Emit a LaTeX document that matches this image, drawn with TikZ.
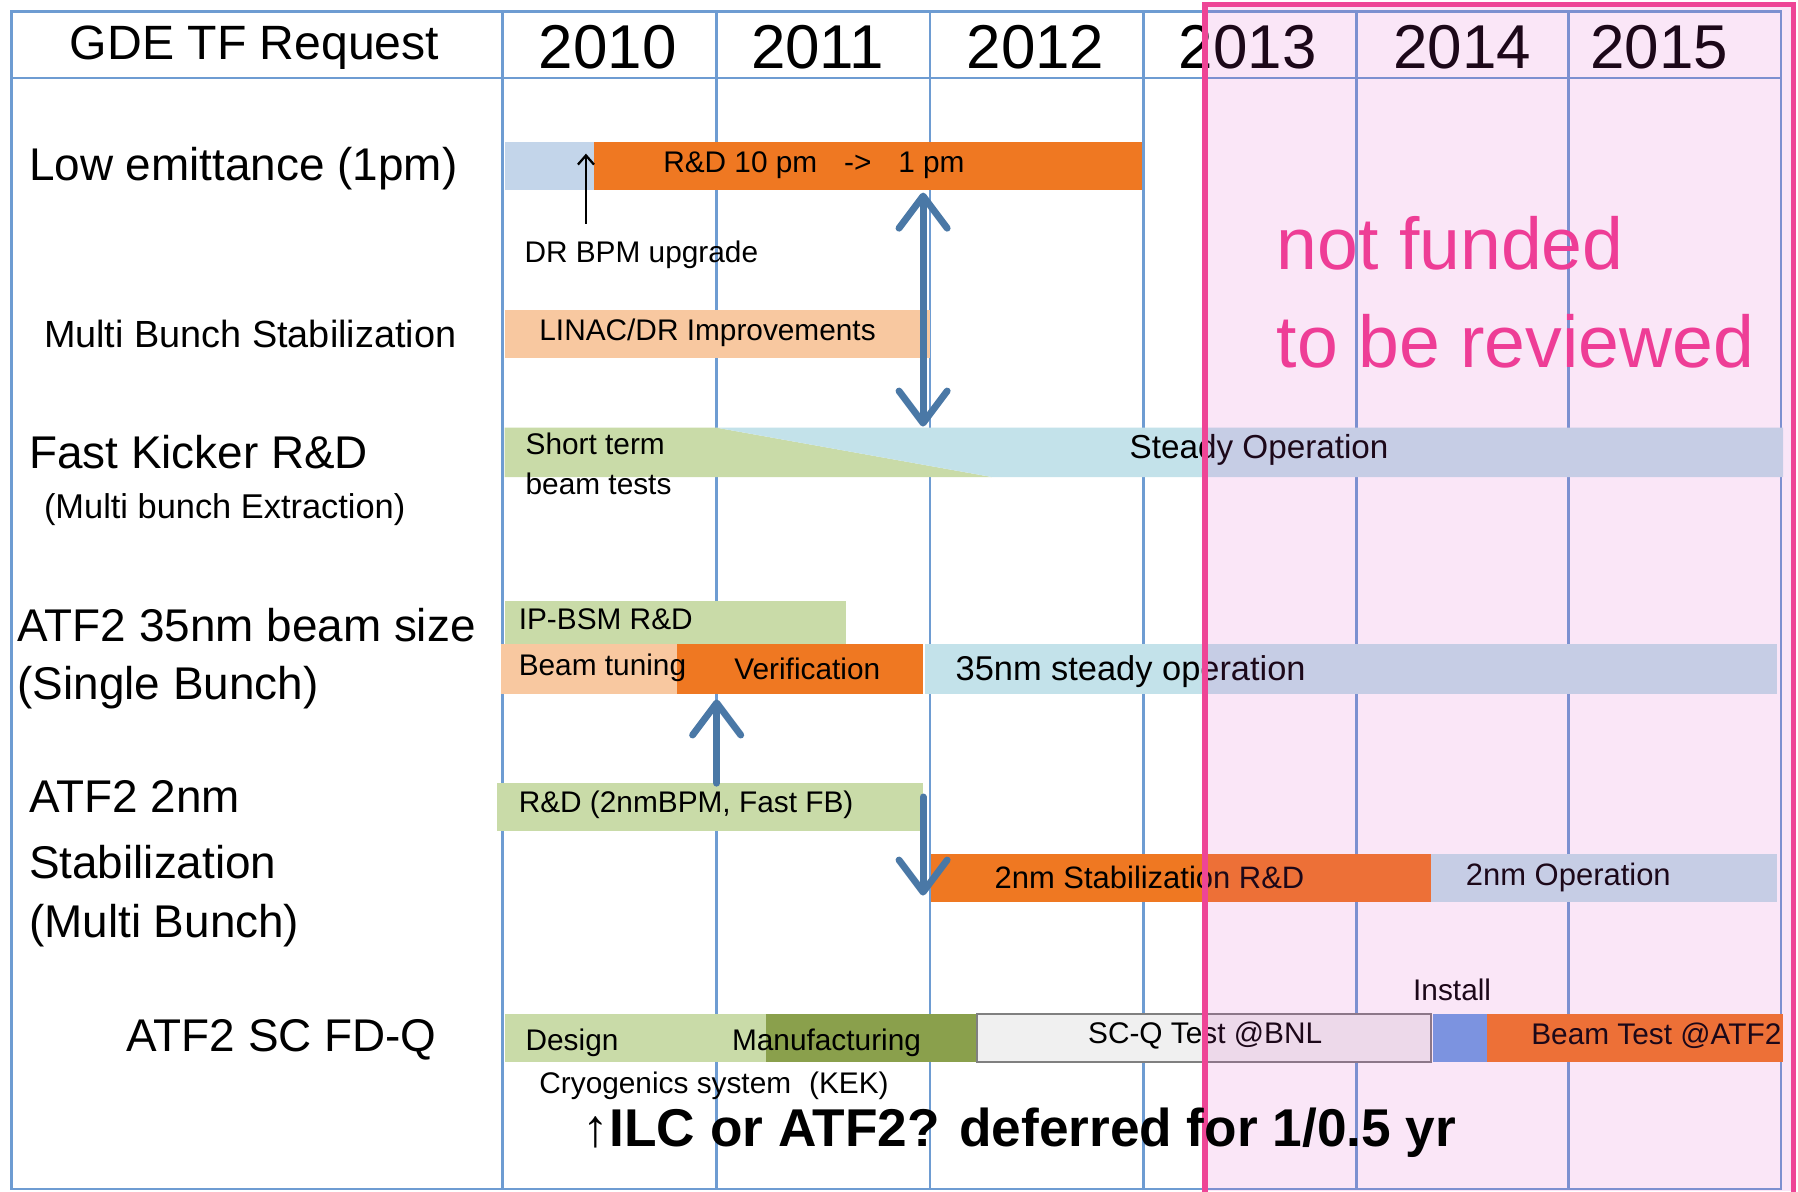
\documentclass[tikz,border=0pt]{standalone}
\usepackage{fontspec}
\setmainfont{Liberation Sans}
\usetikzlibrary{arrows.meta}
\definecolor{gridc}{HTML}{6E9CD2}
\definecolor{ltblue}{HTML}{C3D5EA}
\definecolor{orangeC}{HTML}{EF7822}
\definecolor{peach}{HTML}{F8C8A0}
\definecolor{greenC}{HTML}{C9DBA8}
\definecolor{cyanC}{HTML}{C3E2EA}
\definecolor{dkgreen}{HTML}{8AA04C}
\definecolor{boxgray}{HTML}{F0F0F0}
\definecolor{boxline}{HTML}{808080}
\definecolor{installblue}{HTML}{6EA0E4}
\definecolor{arrowblue}{HTML}{4A78A6}
\definecolor{pinkfill}{HTML}{E040C8}
\definecolor{pinkline}{HTML}{EE4596}
\definecolor{pinktext}{HTML}{EE3D96}
\begin{document}
\begin{tikzpicture}[x=0.5pt,y=-0.5pt,
  grid/.style={draw=gridc,line width=1.1pt},
  hdr/.style={inner sep=0pt,anchor=center,font=\fontsize{27}{30}\selectfont},
  rowlbl/.style={inner sep=0pt,anchor=west,font=\fontsize{20}{24}\selectfont},
  sublbl/.style={inner sep=0pt,anchor=west,font=\fontsize{15}{18}\selectfont},
  bartxt/.style={inner sep=0pt,anchor=west,font=\fontsize{13}{15}\selectfont},
  bigarrow/.style={draw=arrowblue,line width=3pt,line cap=round,>={Straight Barb[length=14pt,width=21pt,round]}},
  pinklbl/.style={inner sep=0pt,anchor=west,text=pinktext,font=\fontsize{32}{36}\selectfont}
]
\useasboundingbox (0,0) rectangle (1568,1039);
\fill[white] (0,0) rectangle (1568,1039);

% table
\draw[grid] (10,10) rectangle (1553,1037);
\draw[grid] (10,68) -- (1553,68);
\foreach \x in {438,625,811,997,1183,1368} \draw[grid] (\x,10) -- (\x,1037);

% header
\node[hdr,font=\fontsize{21}{24}\selectfont] (hreq) at (222,42) {GDE TF Request};
\node[hdr] (y10) at (530,41) {2010};
\node[hdr] (y11) at (713,41) {2011};
\node[hdr] (y12) at (903,41) {2012};
\node[hdr] (y13) at (1088,41) {2013};
\node[hdr] (y14) at (1275,41) {2014};
\node[hdr] (y15) at (1447,41) {2015};

% row labels
\node[rowlbl] (l1) at (25,147) {Low emittance (1pm)};
\node[sublbl,font=\fontsize{16.5}{19}\selectfont] (l2) at (38,291) {Multi Bunch Stabilization};
\node[rowlbl] (l3) at (25,394) {Fast Kicker R\&D};
\node[sublbl] (l3b) at (38,444) {(Multi bunch Extraction)};
\node[rowlbl] (l4) at (15,545) {ATF2 35nm beam size};
\node[rowlbl] (l4b) at (15,600) {(Single Bunch)};
\node[rowlbl] (l5) at (25,695) {ATF2 2nm};
\node[rowlbl] (l5b) at (25,752) {Stabilization};
\node[rowlbl] (l5c) at (25,807) {(Multi Bunch)};
\node[rowlbl] (l6) at (110,907) {ATF2 SC FD-Q};

% bars
\fill[ltblue] (440,124) rectangle (518,166);
\fill[orangeC] (518,124) rectangle (996,166);
\fill[peach] (440,270) rectangle (811,312);
\fill[greenC] (440,373) -- (625,373) -- (865,416) -- (440,416) -- cycle;
\fill[cyanC] (625,373) -- (1555,373) -- (1555,416) -- (865,416) -- cycle;
\fill[greenC] (440,524) rectangle (738,562);
\fill[peach] (437,562) rectangle (590,605);
\fill[orangeC] (590,562) rectangle (805,605);
\fill[cyanC] (807,562) rectangle (1550,605);
\fill[greenC] (433,683) rectangle (805,725);
\fill[orangeC] (812,745) rectangle (1248,787);
\fill[cyanC] (1248,745) rectangle (1550,787);
\fill[greenC] (440,884) rectangle (668,926);
\fill[dkgreen] (668,884) rectangle (852,926);
\filldraw[fill=boxgray,draw=boxline,line width=1pt] (852,884) rectangle (1248,926);
\fill[installblue] (1250,884) rectangle (1297,926);
\fill[orangeC] (1297,884) rectangle (1555,926);

% row 1 texts
\node[bartxt] (t1) at (578,144) {R\&D 10 pm\hspace{0.9em}->\hspace{0.9em}1 pm};
\coordinate (bpmtail) at (511,195);
\coordinate (bpmhead) at (511,134);
\draw[line width=1pt,-{Straight Barb[length=4pt,width=7pt]}] (bpmtail) -- (bpmhead);
\node[bartxt] (tbpm) at (457,222) {DR BPM upgrade};

% row 2
\node[bartxt] (t2) at (470,290) {LINAC/DR Improvements};

% row 3
\node[bartxt] (t3a) at (458,387) {Short term};
\node[bartxt] (t3b) at (458,422) {beam tests};
\node[bartxt,anchor=center,font=\fontsize{14.5}{17}\selectfont] (t3c) at (1098,392) {Steady Operation};

% double arrow row1 <-> row3
\coordinate (da1) at (805,168);
\coordinate (da2) at (805,372);
\draw[bigarrow,<->] (da1) -- (da2);

% row 4
\node[bartxt] (t4a) at (452,540) {IP-BSM R\&D};
\node[bartxt] (t4b) at (452,582) {Beam tuning};
\node[bartxt] (t4c) at (640,583) {Verification};
\node[bartxt,font=\fontsize{15}{18}\selectfont] (t4d) at (833,586) {35nm steady operation};

% row 5
\node[bartxt] (t5a) at (452,702) {R\&D (2nmBPM, Fast FB)};
\node[bartxt,font=\fontsize{13.5}{16}\selectfont] (t5b) at (867,765) {2nm Stabilization R\&D};
\node[bartxt,font=\fontsize{13.5}{16}\selectfont] (t5c) at (1278,765) {2nm Operation};

\coordinate (ua1) at (625,683);
\coordinate (ua2) at (625,610);
\draw[bigarrow,->] (ua1) -- (ua2);
\coordinate (dn1) at (805,695);
\coordinate (dn2) at (805,781);
\draw[bigarrow,->] (dn1) -- (dn2);

% row 6
\node[bartxt] (t6a) at (458,909) {Design};
\node[bartxt] (t6b) at (638,909) {Manufacturing};
\node[bartxt,anchor=center] (t6c) at (1051,903) {SC-Q Test @BNL};
\node[bartxt] (t6d) at (1335,903) {Beam Test @ATF2};
\node[bartxt] (t6e) at (1232,863) {Install};
\node[bartxt] (t6f) at (470,947) {Cryogenics system\hspace{0.6em}(KEK)};

% pink overlay
\fill[pinkfill,fill opacity=0.13] (1051,4) rectangle (1564,1039);
\draw[pinkline,line width=2.5pt] (1051,4) rectangle (1564,1050);
\node[pinklbl] (nf1) at (1113,212) {not funded};
\node[pinklbl] (nf2) at (1113,298) {to be reviewed};

% bottom note
\node[inner sep=0pt,anchor=west,font=\bfseries\fontsize{23.2}{27}\selectfont] (note) at (508,988) {↑ILC or ATF2? deferred for 1/0.5 yr};
\end{tikzpicture}
\end{document}
